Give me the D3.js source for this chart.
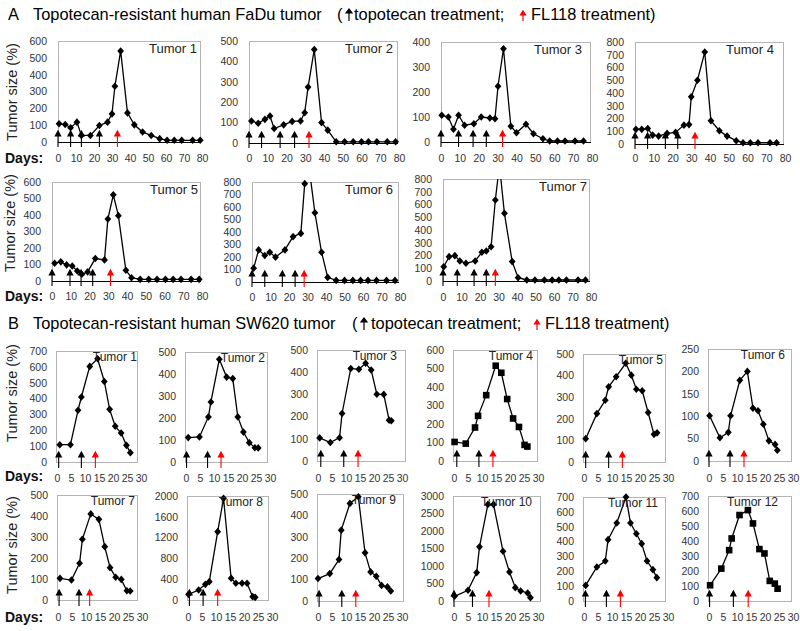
<!DOCTYPE html>
<html><head><meta charset="utf-8">
<script src="https://cdn.jsdelivr.net/npm/d3@7"></script>
<style>body{margin:0;background:#fff}svg{display:block}</style>
</head><body>
<svg id="c" width="800" height="631"></svg>
<script>
// ---------- DATA ----------
const xTicksA = [0,10,20,30,40,50,60,70,80];
const xTicksB = [0,5,10,15,20,25,30];

const A1_days = [0.6,4,7,10.5,13,18,23,27.5,30,31.6,34.8,38.6,42.4,47,51.8,56.5,60.6,64.6,68.7,74.8,79];
const A1_vals = [108,104,85,118,39,39,98,118,167,331,541,173,102,59,39,20,10,10,10,10,10];
const A1_topo = [0,7,13,23], A1_fl = [33];

const A2_days = [1.3,4.9,8.5,11.2,13.4,18.5,23,27.5,29.7,31.5,34.8,38.7,42,46.5,51,55.6,60,63.7,68.2,73.7,78.2];
const A2_vals = [108,97,116,132,71,89,106,108,148,274,458,100,63,6,6,6,6,6,6,6,6];
const A2_topo = [0,6.7,16.6,24.3], A2_fl = [32];

const A3_days = [0.4,3.9,6.6,9.3,12.5,17.4,21.3,25.9,28.6,30.2,33.1,37,40,45,49,54,57.6,61.7,65.7,71,75.5];
const A3_vals = [107,100,51,107,67,73,100,96,93,223,373,63,37,71,33,13,4,4,4,4,4];
const A3_topo = [0,9.3,17,24], A3_fl = [32.6];

const A4_days = [0.5,3.6,6.8,9.4,12.6,17.1,21.6,26.1,28.8,30,33.3,37.2,40.5,45,49.1,54,57.6,61.5,65.6,72,75.5];
const A4_vals = [115,115,122,70,62,83,91,148,152,370,500,721,182,104,62,26,10,10,10,10,10];
const A4_topo = [0,6.7,16.2,22.8], A4_fl = [32];

const A5_days = [1.4,4.7,7.8,10.8,13.5,15.9,19,23.1,28,29.8,32.7,35.4,39.4,42.4,47,51.6,56,60.5,64.6,68.8,74.2,78.5];
const A5_vals = [108,116,98,91,61,41,55,136,128,376,522,396,65,20,10,10,10,10,10,10,10,10];
const A5_topo = [0,9.6,15.5,21.7], A5_fl = [31.2];

const A6_days = [0.9,3.6,6.9,9.6,12.7,17.8,22.2,26.4,28.5,31,34,37.6,40.9,45.5,50,54.5,58.7,62.7,67.3,72.7,77.3];
const A6_vals = [111,257,212,238,199,257,363,389,787,900,554,238,37,13,13,13,13,13,13,13,13];
const A6_topo = [0,6.9,16.4,23.3], A6_fl = [28.2];

const A7_days = [0.4,3.3,6.4,9.1,12.4,17.4,21,23.4,26,28.3,30.5,33.2,37.4,40.6,45.3,49.7,54.8,59,62.6,66.7,73,77];
const A7_vals = [112,191,199,157,139,157,225,235,269,635,910,531,152,26,8,8,8,8,8,8,8,8];
const A7_topo = [0,7.7,16.8,23.4], A7_fl = [28.3];

const B1_days = [1,4.8,7.5,8.7,11.7,14.5,16.9,18.8,20.8,22.9,24.8,26.2];
const B1_vals = [109,109,326,410,603,651,508,332,225,183,105,59];
const B1_topo = [0.6,8.7], B1_fl = [13.7];

const B2_days = [0.8,4.8,8,8.9,11.9,14.5,16.7,18.5,20.5,22.6,24.6,25.8];
const B2_vals = [111,114,205,273,467,386,379,205,136,88,65,64];
const B2_topo = [0.2,7.7], B2_fl = [12.5];

const B3_days = [0.6,4.4,7.7,8.6,11.7,14.6,17,19,21,23.5,25.4,26.2];
const B3_vals = [104,83,105,214,417,413,440,410,301,300,184,181];
const B3_topo = [1,9.2], B3_fl = [14.3];

const B4_days = [0.2,4.2,7.5,8.6,11.5,14.9,16.9,19,21.1,23.2,25.2,26.2];
const B4_vals = [103,94,181,244,356,515,477,335,230,184,87,78];
const B4_topo = [1,8.9], B4_fl = [13.9];

const B5_days = [0.6,4.6,7.6,8.8,11.5,14.9,16.9,18.7,20.8,22.9,25,26.1];
const B5_vals = [108,224,286,348,395,457,402,337,330,229,128,135];
const B5_topo = [0.6,8.8], B5_fl = [13.7];

const B6_days = [0.2,3.9,6.9,7.7,11,13.7,15.7,17.5,19.4,21.4,23.6,24.4];
const B6_vals = [101,52,64,101,180,200,118,112,82,45,37,24];
const B6_topo = [0,7.5], B6_fl = [12.5];

const B7_days = [0.7,4.8,7.7,8.7,11.7,14.6,16.7,18.6,20.6,22.6,24.6,25.8];
const B7_vals = [103,95,175,289,410,384,254,154,108,98,44,43];
const B7_topo = [0.4,7.5], B7_fl = [11.3];

const B8_days = [0.2,3.8,6.2,7.6,10.6,12.7,15.4,17.1,19.3,21.1,23.1,24];
const B8_vals = [109,192,301,353,1314,1955,417,321,321,321,64,51];
const B8_topo = [0.5,5.4], B8_fl = [10.6];

const B9_days = [0,4.2,7.5,8.3,11.4,14.4,16.8,18.8,20.8,22.7,24.8,26];
const B9_vals = [105,128,194,331,456,487,225,136,116,73,66,47];
const B9_topo = [0.4,8.5], B9_fl = [13.5];

const B10_days = [0.2,5,8.1,9.1,12.1,14.1,17.5,19.8,21.9,23.8,26.3,27.3];
const B10_vals = [134,306,812,1547,2760,2760,1423,831,382,287,229,96];
const B10_topo = [0,6.6], B10_fl = [12.5];

const B11_days = [0.6,4.6,7.6,8.6,11.7,15,16.6,18.7,20.6,22.5,24.6,26];
const B11_vals = [105,229,269,413,525,700,525,453,386,269,211,157];
const B11_topo = [0.5,8], B11_fl = [13];

const B12_days = [0.4,4.4,7.2,8.1,10.9,13.9,15.7,18,19.8,21.7,23.5,24.5];
const B12_vals = [105,216,339,417,573,606,517,346,317,134,116,82];
const B12_topo = [0.2,8.7], B12_fl = [14];

// ---------- LAYOUT ----------
const panels = [
 {name:"Tumor 1", d:A1_days, v:A1_vals, t:A1_topo, f:A1_fl, yMax:600, step:100, x0:58, x1:200, yTop:41, yBot:142, xl:158, set:"A", lx:197},
 {name:"Tumor 2", d:A2_days, v:A2_vals, t:A2_topo, f:A2_fl, yMax:500, step:100, x0:249, x1:397, yTop:41, yBot:143, xl:158, set:"A", lx:393},
 {name:"Tumor 3", d:A3_days, v:A3_vals, t:A3_topo, f:A3_fl, yMax:400, step:100, x0:441, x1:590, yTop:42, yBot:142, xl:158, set:"A", lx:582},
 {name:"Tumor 4", d:A4_days, v:A4_vals, t:A4_topo, f:A4_fl, yMax:800, step:100, x0:635, x1:783, yTop:42, yBot:144, xl:158, set:"A", lx:774},
 {name:"Tumor 5", d:A5_days, v:A5_vals, t:A5_topo, f:A5_fl, yMax:600, step:100, x0:52, x1:200, yTop:182, yBot:281, xl:296, set:"A", lx:198},
 {name:"Tumor 6", d:A6_days, v:A6_vals, t:A6_topo, f:A6_fl, yMax:800, step:100, x0:252, x1:398, yTop:182, yBot:282, xl:297, set:"A", lx:393},
 {name:"Tumor 7", d:A7_days, v:A7_vals, t:A7_topo, f:A7_fl, yMax:800, step:100, x0:443, x1:589, yTop:179, yBot:281, xl:297, set:"A", lx:587},
 {name:"Tumor 1", d:B1_days, v:B1_vals, t:B1_topo, f:B1_fl, yMax:700, step:100, x0:56, x1:137, yTop:351, yBot:462, xl:478, set:"B", lx:137},
 {name:"Tumor 2", d:B2_days, v:B2_vals, t:B2_topo, f:B2_fl, yMax:500, step:100, x0:185, x1:267, yTop:352, yBot:462, xl:478, set:"B", lx:265},
 {name:"Tumor 3", d:B3_days, v:B3_vals, t:B3_topo, f:B3_fl, yMax:500, step:100, x0:317, x1:405, yTop:350, yBot:461, xl:478, set:"B", lx:397},
 {name:"Tumor 4", d:B4_days, v:B4_vals, t:B4_topo, f:B4_fl, yMax:600, step:100, x0:453, x1:537, yTop:350, yBot:461, xl:478, set:"B", lx:533, sq:true},
 {name:"Tumor 5", d:B5_days, v:B5_vals, t:B5_topo, f:B5_fl, yMax:500, step:100, x0:583, x1:665, yTop:354, yBot:462, xl:478, set:"B", lx:663},
 {name:"Tumor 6", d:B6_days, v:B6_vals, t:B6_topo, f:B6_fl, yMax:250, step:50, x0:708, x1:791, yTop:349, yBot:461, xl:478, set:"B", lx:785},
 {name:"Tumor 7", d:B7_days, v:B7_vals, t:B7_topo, f:B7_fl, yMax:500, step:100, x0:57, x1:137, yTop:495, yBot:600, xl:617, set:"B", lx:135},
 {name:"Tumor 8", d:B8_days, v:B8_vals, t:B8_topo, f:B8_fl, yMax:2000, step:400, x0:187, x1:268, yTop:496, yBot:600, xl:617, set:"B", lx:263},
 {name:"Tumor 9", d:B9_days, v:B9_vals, t:B9_topo, f:B9_fl, yMax:500, step:100, x0:317, x1:403, yTop:494, yBot:601, xl:617, set:"B", lx:396},
 {name:"Tumor 10", d:B10_days, v:B10_vals, t:B10_topo, f:B10_fl, yMax:3000, step:500, x0:453, x1:540, yTop:496, yBot:601, xl:617, set:"B", lx:532},
 {name:"Tumor 11", d:B11_days, v:B11_vals, t:B11_topo, f:B11_fl, yMax:700, step:100, x0:583, x1:665, yTop:497, yBot:601, xl:617, set:"B", lx:658},
 {name:"Tumor 12", d:B12_days, v:B12_vals, t:B12_topo, f:B12_fl, yMax:700, step:100, x0:708, x1:791, yTop:496, yBot:601, xl:617, set:"B", lx:778, sq:true}
];

const svg = d3.select("#c");
const FONT = "'Liberation Sans', Arial, sans-serif";
const TICKFS = 10.5;
const diamond = "M0,-3.8L3.4,0L0,3.8L-3.4,0Z";
const square = "M-3.3,-3.3h6.6v6.6h-6.6Z";

function arrowPath(x, yb, isA) {
  const below = isA ? 5 : 6, base = isA ? 6 : 5, tip = isA ? 11 : 10, hw = 2.7;
  return `M${x},${yb+below}L${x},${yb-base}M${x-hw},${yb-base}L${x+hw},${yb-base}L${x},${yb-tip}Z`;
}

const defs = svg.append("defs");

panels.forEach((p, i) => {
  const isA = p.set === "A";
  const x = isA
    ? d3.scaleLinear().domain([0, 80]).range([p.x0, p.x1 + 2])
    : d3.scaleLinear().domain([0, 30]).range([p.x0 + 1, p.x0 + 85]);
  const y = d3.scaleLinear().domain([0, p.yMax]).range([p.yBot, p.yTop]);
  const g = svg.append("g");

  g.append("rect").attr("x", p.x0 + 0.5).attr("y", p.yTop + 0.5)
    .attr("width", p.x1 - p.x0).attr("height", p.yBot - p.yTop)
    .attr("fill", "none").attr("stroke", "#b4b4b4").attr("stroke-width", 1);
  if (isA) {
    g.append("line").attr("x1", p.x0).attr("x2", p.x1 + 1).attr("y1", p.yBot + 0.5).attr("y2", p.yBot + 0.5)
      .attr("stroke", "#000").attr("stroke-width", 1.2);
  }

  const ya = g.append("g").attr("transform", `translate(${p.x0},0)`)
    .call(d3.axisLeft(y).tickValues(d3.range(0, p.yMax + 1, p.step)).tickFormat(d3.format("d"))
      .tickSize(0).tickPadding(isA ? 11 : 9));
  ya.select(".domain").remove();
  ya.selectAll("text").attr("font-family", FONT).attr("font-size", TICKFS).attr("fill", "#333");

  const xa = g.append("g").attr("transform", `translate(0,${p.xl - TICKFS * 0.36})`)
    .call(d3.axisBottom(x).tickValues(isA ? xTicksA : xTicksB).tickFormat(d3.format("d")).tickSize(0).tickPadding(0));
  xa.select(".domain").remove();
  xa.selectAll("text").attr("font-family", FONT).attr("font-size", TICKFS).attr("fill", "#333");

  const cid = "clip" + i;
  defs.append("clipPath").attr("id", cid).append("rect")
    .attr("x", p.x0).attr("y", p.yTop).attr("width", p.x1 - p.x0 + 1).attr("height", p.yBot - p.yTop + 6);

  const pts = p.d.map((d, k) => [d, p.v[k]]);
  g.append("path").attr("clip-path", `url(#${cid})`)
    .attr("d", d3.line().x(d => x(d[0])).y(d => y(d[1]))(pts))
    .attr("fill", "none").attr("stroke", "#000").attr("stroke-width", 1.3);

  g.selectAll(".m").data(pts.filter(d => d[1] <= p.yMax)).enter().append("path")
    .attr("transform", d => `translate(${x(d[0])},${y(d[1])})`)
    .attr("d", p.sq ? square : diamond).attr("fill", "#000");

  g.selectAll(".ta").data(p.t).enter().append("path")
    .attr("d", d => arrowPath(x(d), p.yBot, isA))
    .attr("stroke", "#000").attr("stroke-width", 1.1).attr("fill", "#000");
  g.selectAll(".fa").data(p.f).enter().append("path")
    .attr("d", d => arrowPath(x(d), p.yBot, isA))
    .attr("stroke", "#ff0000").attr("stroke-width", 1.1).attr("fill", "#ff0000");

  g.append("text").attr("x", p.lx).attr("y", p.yTop + (isA ? 12 : 10))
    .attr("text-anchor", "end").attr("font-family", FONT)
    .attr("font-size", isA ? 13 : 12).attr("fill", "#222").text(p.name);
});

[[12, 92], [10, 223], [12, 393], [12, 545]].forEach(([cx, cy]) => {
  svg.append("text").attr("transform", `translate(${cx + 5},${cy}) rotate(-90)`)
    .attr("text-anchor", "middle").attr("font-family", FONT).attr("font-size", 14.5)
    .attr("fill", "#222").text("Tumor size (%)");
});

[158, 296, 476, 617].forEach(cy => {
  svg.append("text").attr("x", 5).attr("y", cy + 5).attr("font-family", FONT)
    .attr("font-weight", "bold").attr("font-size", 14).attr("fill", "#111").text("Days:");
});

function title(yb, letter, main, x1, a1, t1, a2, t2) {
  svg.append("text").attr("x", 8).attr("y", yb).attr("font-family", FONT).attr("font-size", 16.4).text(letter);
  svg.append("text").attr("x", 33).attr("y", yb).attr("font-family", FONT).attr("font-size", 16.4).text(main);
  svg.append("text").attr("x", x1).attr("y", yb).attr("font-family", FONT).attr("font-size", 16.4).text("(");
  svg.append("path").attr("d", `M${a1},${yb+1}L${a1},${yb-7}M${a1-3},${yb-7}L${a1+3},${yb-7}L${a1},${yb-11}Z`)
    .attr("stroke", "#000").attr("stroke-width", 1.2).attr("fill", "#000");
  svg.append("text").attr("x", t1).attr("y", yb).attr("font-family", FONT).attr("font-size", 16.4).text("topotecan treatment;");
  svg.append("path").attr("d", `M${a2},${yb+1}L${a2},${yb-5}M${a2-2.5},${yb-5}L${a2+2.5},${yb-5}L${a2},${yb-9}Z`)
    .attr("stroke", "#ff0000").attr("stroke-width", 1.2).attr("fill", "#ff0000");
  svg.append("text").attr("x", t2).attr("y", yb).attr("font-family", FONT).attr("font-size", 16.4).text("FL118 treatment)");
}
title(20, "A", "Topotecan-resistant human FaDu tumor", 337, 349, 354, 523, 531);
title(329, "B", "Topotecan-resistant human SW620 tumor", 352, 364, 371, 537, 545);
</script>
</body></html>
